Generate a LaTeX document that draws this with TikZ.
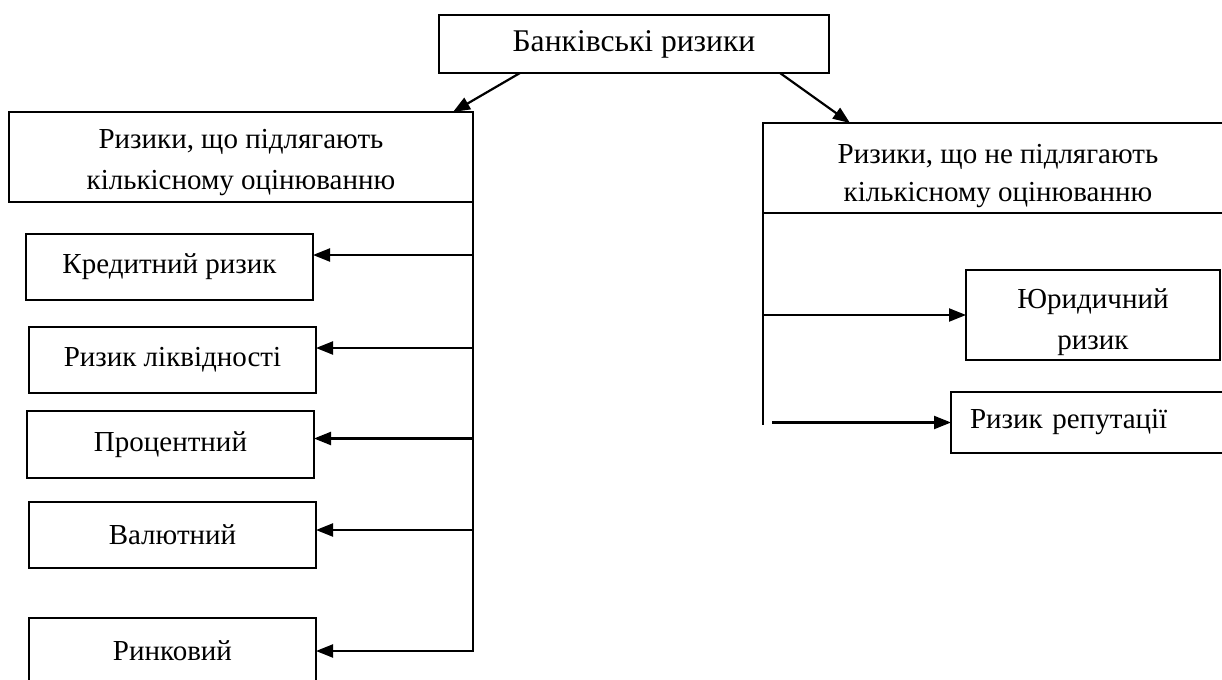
\documentclass[tikz,border=0pt]{standalone}
\usepackage{fontspec}
\setmainfont{Liberation Serif}
\usetikzlibrary{arrows.meta}
\begin{document}
\begin{tikzpicture}[x=0.5pt,y=-0.5pt,
  box/.style={draw, line width=1.1pt, rectangle, outer sep=0pt, inner sep=2pt, align=center, anchor=north west,
    font=\fontsize{14.5pt}{20.5pt}\selectfont},
  lbl/.style={align=center, inner sep=0pt, font=\fontsize{14.5pt}{20.5pt}\selectfont},
  link/.style={line width=1.1pt},
  arr/.style={line width=1.1pt, -{Triangle[length=8.5pt,width=6.5pt]}}]
\useasboundingbox (0,0) rectangle (1222,680);
\clip (0,0) rectangle (1222,680);
\node[box, minimum width=195pt, minimum height=29pt, font=\fontsize{15.8pt}{20.5pt}\selectfont] (top) at (439,15) {Банківські ризики};
\node[box, minimum width=232pt, minimum height=45pt,
  label={[lbl, yshift=-3pt]center:{Ризики, що підлягають\\кількісному оцінюванню}}] (lq) at (9,112) {};
\node[box, minimum width=235pt, minimum height=45pt,
  label={[lbl, yshift=-4pt, font=\fontsize{14.5pt}{19pt}\selectfont]center:{Ризики, що не підлягають\\кількісному оцінюванню}}] (rnq) at (763,123) {};
\node[box, minimum width=143.5pt, minimum height=33pt] (kred) at (26,234) {Кредитний ризик};
\node[box, minimum width=143.5pt, minimum height=33pt] (likv) at (29,327) {Ризик ліквідності};
\node[box, minimum width=143.5pt, minimum height=33.5pt] (proc) at (27,411) {Процентний};
\node[box, minimum width=143.5pt, minimum height=33pt] (val) at (29,502) {Валютний};
\node[box, minimum width=143.5pt, minimum height=33pt] (rynk) at (29,618) {Ринковий};
\node[box, minimum width=127pt, minimum height=45pt,
  label={[lbl, yshift=-3.5pt]center:{Юридичний\\ризик}}] (yur) at (966,270) {};
\node[box, minimum height=30.5pt, text width=126pt, inner xsep=9.5pt, align=left] (rep) at (951,392) {Ризик репутації};
% top arrows
\draw[arr] ([xshift=40.5pt]top.south west) -- ([xshift=-10pt]lq.north east);
\draw[arr] ([xshift=170.5pt]top.south west) -- ([xshift=43.5pt]rnq.north west);
% left trunk
\draw[arr] (lq.south east) |- (rynk.east);
\draw[arr] ([yshift=6pt]lq.south east |- kred.east) -- ([yshift=6pt]kred.east);
\draw[arr] ([yshift=6pt]lq.south east |- likv.east) -- ([yshift=6pt]likv.east);
\draw[arr] ([yshift=3pt]lq.south east |- proc.east) -- ([yshift=3pt]proc.east);
\draw[arr] ([yshift=2.5pt]lq.south east |- val.east) -- ([yshift=2.5pt]val.east);
% right trunk
\coordinate (rend) at (763,425);
\draw[link] (rnq.south west) -- (rend);
\draw[arr] (rnq.south west |- yur.west) -- (yur.west);
\draw[arr] ([xshift=4.5pt]rnq.south west |- rep.west) -- (rep.west);
\end{tikzpicture}
\end{document}
